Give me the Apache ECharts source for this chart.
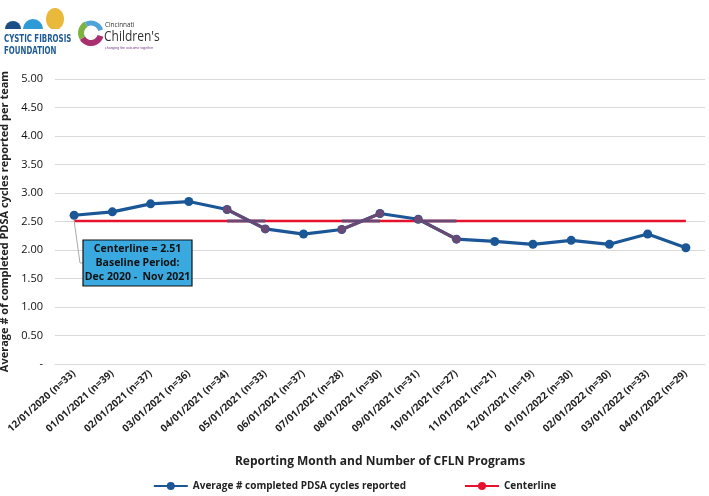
<!DOCTYPE html>
<html><head><meta charset="utf-8">
<script src="https://cdn.jsdelivr.net/npm/echarts@6/dist/echarts.min.js"></script>
<style>html,body{margin:0;padding:0;background:#fff}#c{width:709px;height:496px}</style>
</head><body><div id="c"></div>
<script>
const categories = ['12/01/2020 (n=33)','01/01/2021 (n=39)','02/01/2021 (n=37)','03/01/2021 (n=36)','04/01/2021 (n=34)','05/01/2021 (n=33)','06/01/2021 (n=37)','07/01/2021 (n=28)','08/01/2021 (n=30)','09/01/2021 (n=31)','10/01/2021 (n=27)','11/01/2021 (n=21)','12/01/2021 (n=19)','01/01/2022 (n=30)','02/01/2022 (n=30)','03/01/2022 (n=33)','04/01/2022 (n=29)'];
const avgPDSA = [2.61,2.67,2.81,2.85,2.71,2.37,2.28,2.36,2.64,2.54,2.19,2.15,2.10,2.17,2.10,2.28,2.04];
const centerline = [2.51,2.51,2.51,2.51,2.51,2.51,2.51,2.51,2.51,2.51,2.51,2.51,2.51,2.51,2.51,2.51,2.51];
// highlighted (purple) segments as shown in the reference
const hiA = [null,null,null,null,2.71,2.37,null,null,null,null,null,null,null,null,null,null,null];
const hiB = [null,null,null,null,null,null,null,2.36,2.64,null,null,null,null,null,null,null,null];
const hiC = [null,null,null,null,null,null,null,null,null,2.54,2.19,null,null,null,null,null,null];
const hiCL1 = [null,null,null,null,2.51,2.51,null,null,null,null,null,null,null,null,null,null,null];
const hiCL2 = [null,null,null,null,null,null,null,2.51,2.51,null,null,null,null,null,null,null,null];
const hiCL3 = [null,null,null,null,null,null,null,null,null,2.51,2.51,null,null,null,null,null,null];

const BLUE = '#1b5797', RED = '#e8112d', PURP = '#6a4a74';
const chart = echarts.init(document.getElementById('c'));
const hiLine = (d, sym) => ({type:'line', data:d, symbol: sym?'circle':'none', symbolSize:8, z: sym?4:3,
  lineStyle:{color:PURP,width:3}, itemStyle:{color:PURP}, silent:true, tooltip:{show:false}, legendHoverLink:false, connectNulls:false});
chart.setOption({
  animation:false,
  textStyle:{fontFamily:'"Open Sans", "DejaVu Sans", sans-serif'},
  grid:{left:55,right:4,top:79,bottom:132,containLabel:false,outerBoundsMode:'none'},
  legend:{
    data:['Average # completed PDSA cycles reported','Centerline'],
    bottom:0, left:'center', itemGap:58, itemWidth:34, itemHeight:10,
    textStyle:{fontSize:10,fontWeight:'bold',color:'#222'}
  },
  xAxis:{
    type:'category', data:categories, boundaryGap:true,
    axisLine:{lineStyle:{color:'#d9d9d9'}}, axisTick:{show:false},
    axisLabel:{rotate:42,fontSize:10,fontWeight:'bold',color:'#222',interval:0,margin:8},
    name:'Reporting Month and Number of CFLN Programs', nameLocation:'middle', nameGap:92,
    nameTextStyle:{fontSize:12,fontWeight:'bold',color:'#222'}
  },
  yAxis:{
    type:'value', min:0, max:5, interval:0.5,
    axisLine:{show:false}, axisTick:{show:false},
    splitLine:{lineStyle:{color:'#d9d9d9',width:1}},
    axisLabel:{fontSize:11,color:'#111',margin:12,formatter:v=> v===0?'-':v.toFixed(2)},
    name:'Average # of completed PDSA cycles reported per team', nameLocation:'middle', nameGap:44,
    nameTextStyle:{fontSize:11,fontWeight:'bold',color:'#222'}
  },
  series:[
    {name:'Centerline',type:'line',data:centerline,symbol:'none',z:2,lineStyle:{color:RED,width:2.5},itemStyle:{color:RED}},
    hiLine(hiCL1,false), hiLine(hiCL2,false), hiLine(hiCL3,false),
    {name:'Average # completed PDSA cycles reported',type:'line',data:avgPDSA,symbol:'circle',symbolSize:9,z:3,
     lineStyle:{color:BLUE,width:3.2},itemStyle:{color:BLUE}},
    hiLine(hiA,true), hiLine(hiB,true), hiLine(hiC,true)
  ],
  graphic:[
    // annotation leader line
    {type:'polyline',shape:{points:[[74,220],[80,263],[84,263]]},style:{stroke:'#aaa',lineWidth:1},z:5},
    {type:'rect',shape:{x:83,y:240,width:109,height:46},style:{fill:'#3aa9e0',stroke:'#111',lineWidth:1.2},z:6},
    {type:'text',x:137.5,y:263,z:7,style:{text:'Centerline = 2.51\nBaseline Period:\nDec 2020 -  Nov 2021',align:'center',verticalAlign:'middle',
      font:'bold 10.5px "Open Sans", sans-serif',fill:'#111',lineHeight:14}},
    // Cystic Fibrosis Foundation logo
    {type:'sector',shape:{cx:13,cy:29,r:8,startAngle:Math.PI,endAngle:2*Math.PI},style:{fill:'#1d4f86'}},
    {type:'sector',shape:{cx:33,cy:29,r:10,startAngle:Math.PI,endAngle:2*Math.PI},style:{fill:'#2e9ad6'}},
    {type:'ellipse',shape:{cx:55,cy:19,rx:9,ry:11},style:{fill:'#e8b93a'}},
    {type:'rect',shape:{x:44,y:29,width:22,height:5},style:{fill:'#fff'}},
    {type:'text',x:4,y:33,scaleX:0.64,style:{text:'CYSTIC FIBROSIS\nFOUNDATION',font:'bold 11px "DejaVu Sans", sans-serif',fill:'#1d5a96',lineHeight:12}},
    // Cincinnati Children's logo
    {type:'arc',shape:{cx:91,cy:33,r:10,startAngle:0.3,endAngle:2.6},style:{stroke:'#a8306e',lineWidth:6}},
    {type:'arc',shape:{cx:91,cy:33,r:10,startAngle:2.6,endAngle:4.2},style:{stroke:'#7cb342',lineWidth:6}},
    {type:'arc',shape:{cx:91,cy:33,r:10,startAngle:4.2,endAngle:6.0},style:{stroke:'#4fa3d9',lineWidth:5}},
    {type:'text',x:105,y:21,scaleX:0.85,style:{text:'Cincinnati',font:'7.5px "Open Sans", sans-serif',fill:'#333'}},
    {type:'text',x:104,y:29,scaleX:0.8,style:{text:"Children's",font:'15px "Open Sans", sans-serif',fill:'#333'}},
    {type:'text',x:105,y:46,style:{text:'changing the outcome together',font:'3.5px sans-serif',fill:'#7a3b8f'}}
  ]
});
</script></body></html>
